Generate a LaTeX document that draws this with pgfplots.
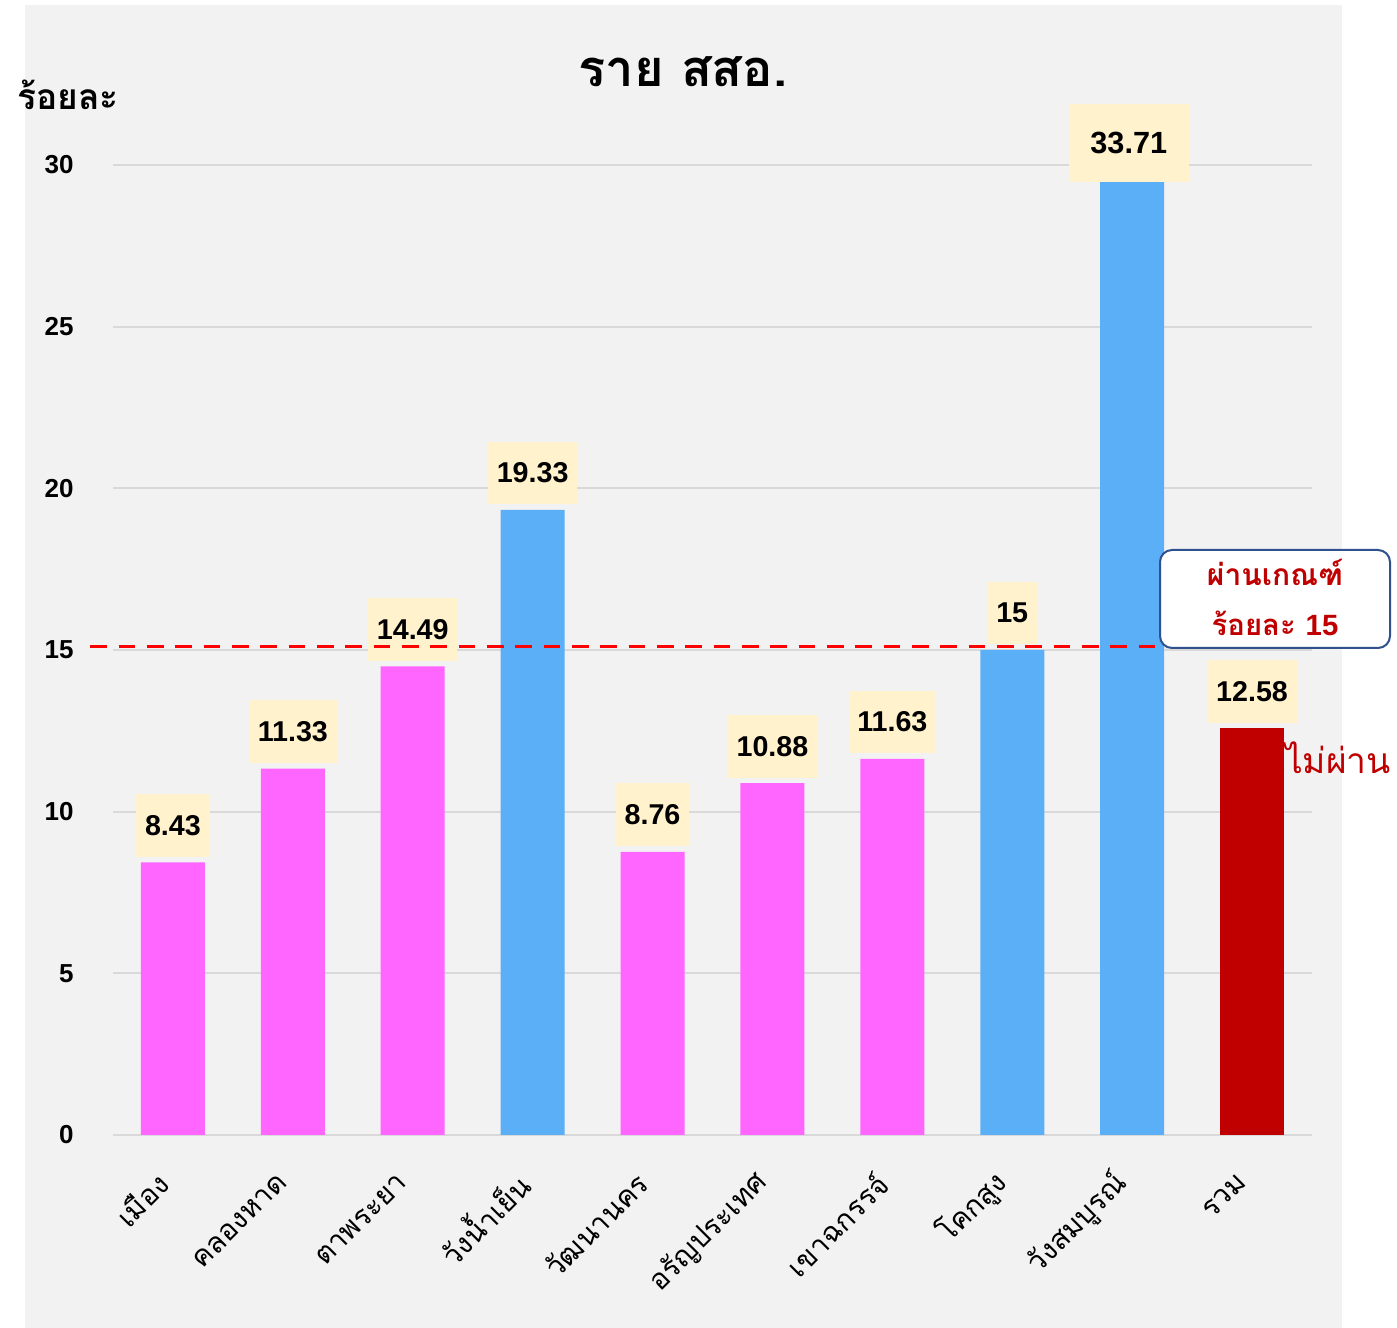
\documentclass[border=0pt]{standalone}
\usepackage{pgfplots}
\pgfplotsset{compat=1.18}
\usepackage{fontspec}
\setmainfont{Liberation Sans}
\newfontfamily\thai[Script=Thai]{Loma}
\definecolor{bg}{HTML}{F2F2F2}
\definecolor{gridc}{HTML}{D9D9D9}
\definecolor{pinkbar}{HTML}{FF66FF}
\definecolor{bluebar}{HTML}{5BAFF7}
\definecolor{redbar}{HTML}{C00000}
\definecolor{cream}{HTML}{FFF2CC}
\definecolor{callb}{HTML}{2F528F}
\begin{document}
\begin{tikzpicture}
\begin{scope}[shift={(-84.75pt,851.25pt)},x=0.75pt,y=-0.75pt]
\path[fill=white] (0,0) rectangle (1397,1328);
\fill[bg] (25,5) rectangle (1342,1328);
\end{scope}
\begin{axis}[
  at={(0,0)}, anchor=south west,
  scale only axis, width=899.25pt, height=771.15pt,
  xmin=-0.5, xmax=9.5, ymin=0, ymax=31.8,
  axis line style={draw=none}, major tick length=0pt,
  ymajorgrids, grid style={gridc, line width=1.5pt},
  ytick={0,5,...,30},
  xtick={0,...,9},
  xticklabels={เมือง, คลองหาด, ตาพระยา, วังน้ำเย็น, วัฒนานคร, อรัญประเทศ, เขาฉกรรจ์, โคกสูง, วังสมบูรณ์, รวม},
  /pgf/number format/assume math mode=true,
  yticklabel style={font=\bfseries\fontsize{19.5}{21}\selectfont, xshift=-26pt},
  xticklabel style={font=\thai\fontsize{21.5}{24}\selectfont, xshift=-5pt, yshift=-30pt, rotate=45, anchor=east},
  clip mode=individual,
  bar width=48pt,
  every node near coord/.append style={fill=cream, text=black, font=\bfseries\fontsize{21.5}{24}\selectfont, inner xsep=6.5pt, minimum height=47pt, anchor=south, yshift=4pt},
]
\addplot[ybar, bar shift=0pt, fill=pinkbar, draw=none, nodes near coords] coordinates {(0,8.43) (1,11.33) (2,14.49) (4,8.76) (5,10.88) (6,11.63)};
\addplot[ybar, bar shift=0pt, fill=bluebar, draw=none, nodes near coords] coordinates {(3,19.33) (7,15) (8,33.71)};
\addplot[ybar, bar shift=0pt, fill=redbar, draw=none, nodes near coords] coordinates {(9,12.58)};
% label of the 33.71 bar, which runs past the top of the axis
\addplot[draw=none, mark=none, nodes near coords, point meta=explicit symbolic,
  every node near coord/.append style={font=\bfseries\fontsize{23}{26}\selectfont, minimum width=90pt, minimum height=58.5pt, yshift=0pt, xshift=-2.5pt}] coordinates {(8,29.29) [33.71]};
\draw[red, line width=2.5pt, dash pattern=on 12.5pt off 8.75pt] (axis cs:-0.69,15.1) -- (axis cs:9.18,15.1);
\end{axis}
\begin{scope}[shift={(-84.75pt,851.25pt)},x=0.75pt,y=-0.75pt]
\node[font=\thai\bfseries\fontsize{38}{42}\selectfont] at (683,72) {ราย สสอ.};
\node[font=\thai\bfseries\fontsize{26.5}{30}\selectfont] at (68,95) {ร้อยละ};
\node[draw=callb, line width=1.5pt, rounded corners=9pt, fill=white, minimum width=172.5pt, minimum height=73.5pt] at (1275,599) {};
\node[text=redbar, font=\thai\bfseries\fontsize{22.5}{26}\selectfont] at (1275,572) {ผ่านเกณฑ์};
\node[text=redbar, font=\thai\bfseries\fontsize{22}{26}\selectfont] at (1275,623) {ร้อยละ {\normalfont\bfseries 15}};
\node[text=redbar, font=\thai\fontsize{26.5}{30}\selectfont] at (1338,758) {ไม่ผ่าน};
\end{scope}
\end{tikzpicture}
\end{document}
